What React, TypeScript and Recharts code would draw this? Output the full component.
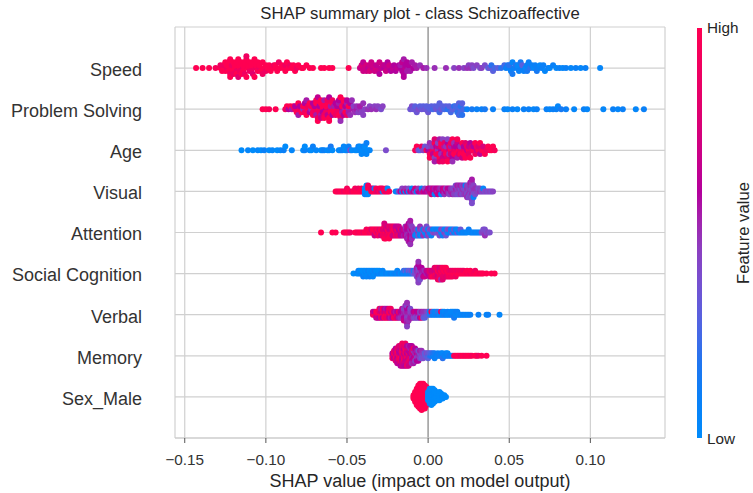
import React from 'react';
import { ScatterChart, Scatter, XAxis, YAxis, CartesianGrid } from 'recharts';

type Pt = [number, number]; // [SHAP value, normalized feature value (0 = low, 1 = high)]

const featureNames = ['Sex_Male', 'Memory', 'Verbal', 'Social Cognition', 'Attention', 'Visual', 'Age', 'Problem Solving', 'Speed'];
const featureTicks = [0, 1, 2, 3, 4, 5, 6, 7, 8];
const xTicks = [-0.15, -0.1, -0.05, 0, 0.05, 0.1];
const xTickLabels = ['\u22120.15', '\u22120.10', '\u22120.05', '0.00', '0.05', '0.10'];
const zeroLine = [0];
const titleText = 'SHAP summary plot - class Schizoaffective';
const xLabelText = 'SHAP value (impact on model output)';
const colorBarHigh = 'High';
const colorBarLow = 'Low';
const colorBarTitle = 'Feature value';

const speed: Pt[] = [
  [-.143,1],[-.139,1],[-.135,1],[-.131,.95],
  [-.128,1],[-.128,.9],[-.127,1],[-.126,1],[-.126,.9],[-.125,1],[-.125,1],[-.124,.9],[-.124,1],[-.123,1],[-.123,1],[-.122,.9],[-.122,1],[-.122,1],[-.121,1],[-.121,.9],[-.12,1],[-.12,1],[-.12,.9],[-.119,1],[-.119,1],[-.118,.9],[-.118,1],[-.118,1],[-.117,1],[-.117,.8],[-.116,1],[-.116,1],[-.116,.9],[-.115,1],[-.115,1],[-.114,.9],[-.114,1],[-.114,1],[-.113,1],[-.113,.9],[-.112,1],[-.112,1],[-.112,.9],[-.111,1],[-.111,1],[-.11,.9],[-.11,1],[-.109,1],[-.109,1],[-.109,.9],[-.108,1],[-.108,.8],[-.107,1],[-.107,1],[-.106,.9],[-.106,1],[-.105,1],[-.105,1],[-.104,.9],[-.104,1],[-.103,1],[-.102,1],[-.102,.9],[-.101,1],[-.1,1],[-.1,.9],[-.099,1],[-.098,1],
  [-.097,1],[-.096,1],[-.095,.9],[-.094,1],[-.094,1],[-.093,1],[-.092,.9],[-.091,1],[-.09,1],[-.089,1],[-.088,.9],[-.088,1],[-.087,1],[-.086,1],[-.085,.9],[-.084,1],[-.083,1],[-.082,1],[-.081,.9],[-.08,1],[-.078,1],[-.077,1],[-.075,1],[-.073,1],
  [-.071,1],[-.066,1],[-.064,1],[-.061,1],[-.059,1],[-.049,1],
  [-.042,.7],[-.041,.75],[-.04,.7],[-.04,.65],[-.039,.7],[-.038,.75],[-.038,.7],[-.037,.65],[-.036,.7],[-.036,.75],[-.035,.7],[-.034,.65],[-.034,.7],[-.033,.7],[-.032,.75],[-.032,.65],[-.031,.7],[-.03,.7],[-.03,.6],[-.029,.65],[-.028,.7],[-.027,.6],[-.027,.65],[-.026,.7],[-.025,.6],[-.024,.65],[-.024,.7],[-.023,.6],[-.022,.65],[-.021,.6],[-.02,.6],[-.019,.65],[-.018,.6],[-.017,.6],[-.017,.55],[-.016,.6],[-.016,.65],[-.015,.6],[-.015,.55],[-.015,.6],[-.014,.65],[-.014,.6],[-.013,.55],[-.013,.6],[-.012,.55],[-.012,.6],[-.011,.55],[-.01,.55],[-.009,.6],[-.008,.55],[-.007,.55],[-.005,.5],[-.003,.55],[-.001,.5],
  [.004,.5],[.011,.5],[.016,.45],[.019,.5],[.022,.45],[.024,.5],[.025,.45],[.026,.5],[.027,.45],[.028,.4],[.03,.45],[.032,.4],[.033,.45],[.035,.4],
  [.037,.3],[.038,.35],[.039,.2],[.04,.3],[.041,.25],[.043,.3],[.045,.2],[.047,.25],
  [.048,.1],[.049,.15],[.05,.1],[.05,.2],[.051,.1],[.052,.05],[.052,.15],[.053,.1],[.054,.2],[.055,.1],[.055,.05],[.056,.1],[.057,.15],[.058,.1],[.058,.3],[.059,.1],[.06,.05],[.061,.1],[.061,.15],[.062,.1],[.063,.2],[.064,.1],[.065,.05],[.066,.1],[.067,.15],[.068,.1],[.069,.05],[.07,.1],[.071,.1],[.072,.05],[.074,.1],[.075,.05],[.077,.1],
  [.079,.05],[.081,.1],[.083,.05],[.085,.1],[.088,.05],[.091,.1],[.094,.05],[.097,.1],[.106,.05],
];

const problemSolving: Pt[] = [
  [-.102,1],[-.1,1],[-.098,.95],[-.094,1],
  [-.088,.9],[-.087,1],[-.086,.6],[-.085,1],[-.084,.55],[-.083,1],[-.082,.9],[-.082,.6],[-.081,1],
  [-.08,1],[-.08,.55],[-.079,.9],[-.079,.6],[-.078,1],[-.077,.5],[-.077,1],[-.076,.9],[-.076,.6],[-.075,1],[-.075,.55],[-.074,1],[-.074,.9],[-.073,.6],[-.073,1],[-.072,.5],[-.072,1],[-.071,.9],[-.071,.6],[-.071,1],
  [-.07,1],[-.07,.6],[-.07,.9],[-.069,1],[-.069,.55],[-.069,1],[-.068,.9],[-.068,.65],[-.068,1],[-.067,1],[-.067,.6],[-.067,.9],[-.066,1],[-.066,.55],[-.066,1],[-.066,.7],[-.065,.9],[-.065,1],[-.065,.6],[-.064,1],[-.064,.9],[-.064,.55],[-.064,1],[-.063,.6],[-.063,1],[-.063,.9],[-.062,1],[-.062,.65],[-.062,.9],[-.061,1],[-.061,.6],[-.061,1],[-.06,.9],[-.06,.55],[-.06,1],[-.059,1],[-.059,.6],[-.059,.9],[-.058,1],[-.058,.55],[-.058,1],[-.057,.6],[-.057,.9],
  [-.056,1],[-.056,.6],[-.056,.9],[-.055,.55],[-.055,1],[-.055,.6],[-.054,.9],[-.054,1],[-.054,.5],[-.053,.6],[-.053,1],[-.053,.55],[-.052,.9],[-.052,.6],[-.052,1],[-.051,.5],[-.051,.6],[-.051,1],[-.05,.55],[-.05,.9],[-.05,.6],[-.049,.5],[-.049,1],[-.049,.55],[-.048,.6],[-.048,.5],
  [-.047,.5],[-.046,.55],[-.046,.45],[-.045,.5],[-.044,.55],[-.044,.5],[-.043,.45],[-.042,.5],[-.042,.55],[-.041,.45],[-.04,.5],[-.04,.45],
  [-.039,.45],[-.037,.5],[-.036,.45],[-.035,.5],[-.033,.45],[-.032,.5],[-.031,.45],[-.029,.4],[-.028,.45],
  [-.011,.35],[-.01,.4],[-.009,.35],[-.008,.3],[-.007,.35],[-.006,.4],[-.005,.3],[-.004,.35],[-.003,.3],[-.002,.35],[-.001,.3],[0,.35],[.001,.3],
  [.002,.3],[.003,.25],[.004,.3],[.005,.35],[.006,.3],[.007,.25],[.007,.3],[.008,.35],[.009,.3],[.01,.25],[.011,.3],[.012,.2],[.013,.3],[.014,.25],[.015,.3],[.016,.2],[.017,.3],[.017,.25],[.018,.2],[.019,.3],[.019,.25],[.02,.3],[.02,.2],[.02,.25],[.021,.3],[.021,.2],[.022,.25],
  [.024,.1],[.027,.15],[.03,.1],[.033,.1],[.035,.15],[.04,.1],[.047,.1],[.049,.05],[.052,.1],[.055,.05],[.059,.1],[.062,.1],[.065,.05],[.067,.1],[.073,.1],[.075,.05],[.077,.1],[.079,.1],[.08,.05],[.082,.15],[.085,.1],[.09,.05],[.096,.1],[.098,.05],[.108,.05],[.114,.1],[.117,.05],[.12,.1],[.128,.05],[.133,.1],
];

const age: Pt[] = [
  [-.115,0],[-.111,.05],[-.108,0],[-.105,.05],[-.103,0],[-.101,.1],[-.098,0],[-.096,.05],[-.093,0],[-.091,.05],[-.089,.1],[-.088,0],[-.084,.05],[-.077,0],[-.076,.1],[-.076,0],[-.073,.05],[-.072,0],[-.071,.1],[-.069,.05],[-.066,0],[-.065,.05],[-.064,.1],[-.062,0],[-.061,.05],[-.06,.15],[-.059,0],[-.055,.05],[-.054,0],[-.053,.1],[-.052,.05],[-.051,0],[-.05,.05],[-.049,.1],[-.048,.4],[-.047,0],[-.045,.05],[-.044,0],[-.043,.1],[-.042,.05],[-.042,0],[-.041,.05],[-.04,0],[-.04,.1],[-.039,.05],[-.039,0],[-.038,.05],[-.038,.1],[-.037,0],[-.036,.05],[-.026,.4],
  [-.008,.95],[-.007,1],[-.006,.4],[-.005,.3],[-.004,.9],[-.003,.45],[-.002,.35],[-.001,1],[0,.6],[0,.4],
  [.001,.9],[.001,.5],[.001,1],[.002,.7],[.002,.45],[.002,1],[.003,.9],[.003,.5],[.003,.65],[.004,1],[.004,.45],[.004,.8],[.004,.55],[.005,.9],[.005,.6],[.005,1],[.006,.5],[.006,.7],[.006,.95],[.006,.45],[.007,1],[.007,.55],[.007,.8],[.008,.6],[.008,.9],[.008,.5],[.008,1],[.009,.7],[.009,.45],[.009,.9],[.01,1],[.01,.55],[.01,.65],[.01,.85],
  [.011,.9],[.011,.5],[.011,1],[.012,.6],[.012,.8],[.012,.45],[.012,1],[.013,.7],[.013,.9],[.013,.5],[.014,1],[.014,.55],[.014,.75],[.014,.9],[.015,.6],[.015,1],[.015,.5],[.016,.85],[.016,.65],[.016,1],[.016,.5],[.017,.9],[.017,.6],[.017,1],[.018,.7],[.018,.55],[.018,.95],[.019,1],[.019,.6],[.019,.8],[.02,.9],[.02,.5],[.02,1],
  [.021,1],[.021,.7],[.022,.9],[.022,.6],[.022,1],[.023,.8],[.023,1],[.024,.65],[.024,.95],[.025,1],[.025,.7],[.025,.85],[.026,.6],[.026,1],[.027,.9],[.027,.75],[.028,1],[.028,.6],[.029,.9],[.029,1],[.03,.7],[.03,.95],[.031,1],[.031,.8],[.032,.65],[.032,1],[.033,.9],[.034,1],[.034,.75],
  [.035,1],[.036,.9],[.037,1],[.038,.95],[.039,1],[.04,1],[.041,.95],
];

const visual: Pt[] = [
  [-.057,1],[-.056,1],[-.055,.95],[-.054,1],[-.053,1],[-.052,.9],[-.051,1],[-.05,1],[-.05,.95],[-.049,1],[-.048,1],[-.047,.9],[-.046,1],[-.045,1],[-.045,.95],[-.044,1],[-.043,1],[-.043,.9],[-.042,1],[-.041,.95],[-.041,1],[-.04,1],
  [-.039,.05],[-.039,0],[-.039,.1],[-.038,0],[-.038,.05],[-.038,.1],[-.038,0],[-.037,.05],[-.037,1],[-.037,0],[-.037,.9],[-.036,.05],[-.036,1],
  [-.035,1],[-.035,.9],[-.034,.95],[-.034,.7],[-.033,1],[-.033,.1],[-.032,.9],[-.032,1],[-.031,.8],[-.03,1],[-.03,.9],[-.029,.75],[-.029,1],[-.028,.1],[-.028,.9],[-.027,1],[-.026,.85],[-.026,1],[-.025,.9],[-.025,.05],[-.024,1],
  [-.02,.1],[-.019,.05],[-.018,.4],[-.017,.6],[-.016,.1],[-.016,.45],[-.015,.7],[-.014,.05],[-.014,.5],[-.013,.65],[-.012,.1],[-.012,.4],[-.011,.7],[-.01,.55],[-.01,.05],[-.009,.6],[-.008,.45],[-.008,.7],[-.007,.1],[-.006,.6],[-.006,.5],[-.005,.65],[-.004,.55],[-.004,.1],[-.003,.7],[-.002,.6],[-.002,.45],[-.001,.65],[0,.55],[0,.7],
  [.001,.7],[.001,.6],[.002,.65],[.002,.55],[.002,.75],[.003,.6],[.003,.7],[.004,.65],[.004,.55],[.004,.1],[.005,.7],[.005,.6],[.006,.5],[.006,.65],[.006,.7],[.007,.6],[.007,.55],[.008,.7],[.008,.5],[.008,.05],[.009,.6],[.009,.65],[.01,.55],[.01,.7],[.01,.5],[.011,.6],[.011,.45],[.012,.55],[.012,.65],[.013,.5],[.013,.6],[.013,.45],[.014,.55],[.014,.5],
  [.015,.5],[.015,.45],[.015,.55],[.016,.5],[.016,.4],[.016,.45],[.017,.5],[.017,.55],[.017,.45],[.017,.4],[.018,.5],[.018,.45],[.018,.4],[.018,.55],[.019,.45],[.019,.5],[.019,.4],[.019,.5],[.02,.45],[.02,.4],[.02,.5],[.02,.55],[.021,.45],[.021,.5],[.021,.4],[.021,.45],[.022,.5],[.022,.4],[.022,.45],[.022,.5],[.023,.45],[.023,.4],[.023,.5],[.023,.1],[.024,.45],[.024,.5],[.024,.4],[.024,.45],[.024,.5],[.025,.4],[.025,.45],[.025,.5],[.025,.45],[.025,.4],[.026,.5],[.026,.45],[.026,.4],[.026,.5],[.026,.45],[.026,.55],[.027,.45],[.027,.4],[.027,.5],[.027,.45],[.027,.4],[.027,.5],[.027,.45],[.027,.55],[.027,.4],[.028,.45],[.028,.5],[.028,.4],[.028,.45],[.028,.1],[.029,.45],[.029,.5],[.029,.4],[.03,.45],[.03,.5],
  [.031,.45],[.031,.4],[.032,.5],[.032,.45],[.033,.4],[.034,.45],[.034,.05],[.035,.4],[.036,.45],[.037,.4],[.038,.45],[.039,.4],[.04,.45],
];

const attention: Pt[] = [
  [-.066,1],[-.059,1],[-.057,1],[-.052,1],[-.051,.95],[-.05,1],[-.049,1],[-.048,.9],
  [-.045,1],[-.044,1],[-.043,.95],[-.042,1],[-.041,1],[-.04,.9],[-.039,1],[-.038,1],[-.038,.95],[-.037,1],[-.036,.9],[-.036,1],
  [-.035,1],[-.035,.8],[-.034,.9],[-.034,1],[-.033,.85],[-.033,1],[-.033,.7],[-.032,1],[-.032,.9],[-.031,.75],[-.031,1],[-.031,.9],[-.03,1],[-.03,.8],[-.029,.9],[-.029,1],[-.029,.7],
  [-.028,1],[-.028,.8],[-.028,.9],[-.027,.9],[-.027,1],[-.027,.75],
  [-.026,1],[-.026,.7],[-.026,.9],[-.026,.8],[-.026,1],[-.025,.8],[-.025,1],[-.025,.9],[-.025,.7],
  [-.024,1],[-.024,.75],[-.024,.9],[-.024,.85],[-.024,1],[-.023,.9],[-.023,.7],[-.023,1],[-.023,.8],
  [-.022,1],[-.022,.9],[-.022,.75],[-.022,.85],[-.021,.8],[-.021,1],[-.021,.7],[-.021,.9],
  [-.02,1],[-.02,.75],[-.02,.9],[-.02,.65],[-.019,.7],[-.019,.9],[-.019,.8],[-.019,.65],
  [-.018,.75],[-.018,.6],[-.018,.9],[-.018,.7],[-.017,.65],[-.017,.8],[-.017,.6],
  [-.016,.7],[-.016,.6],[-.016,.65],[-.015,.6],[-.015,.7],[-.015,.55],
  [-.014,.6],[-.014,.55],[-.014,.65],[-.014,.5],[-.013,.55],[-.013,.6],[-.013,.5],[-.013,.65],[-.013,.55],
  [-.012,.5],[-.012,.6],[-.012,.55],[-.012,.65],[-.012,.5],[-.012,.6],[-.012,.55],
  [-.011,.55],[-.011,.5],[-.011,.6],[-.011,.55],[-.011,.65],[-.011,.5],[-.011,.6],[-.011,.55],[-.011,.5],
  [-.01,.5],[-.01,.6],[-.01,.55],[-.01,.45],[-.01,.5],[-.009,.5],[-.009,.45],[-.009,.55],[-.008,.45],[-.008,.5],[-.008,.1],
  [-.007,.1],[-.007,.45],[-.007,.05],[-.006,.5],[-.006,.1],[-.006,.4],[-.005,.05],[-.005,.45],[-.005,.1],[-.005,.5],[-.004,.1],[-.004,.45],[-.004,0],[-.003,.4],[-.003,.1],[-.003,.5],[-.002,.05],[-.002,.45],[-.001,.1],[-.001,.4],[0,.5],[0,.05],[0,.45],[.001,.1],[.001,.4],[.002,.05],[.002,.45],[.002,.1],[.003,.4],[.003,.1],[.004,.45],[.004,.05],[.005,.4],[.005,.1],
  [.006,.4],[.006,.1],[.007,.45],[.007,.05],[.007,.4],[.008,.1],[.008,.45],[.009,.05],[.009,.4],[.009,.1],[.01,.45],[.01,.05],[.011,.4],[.011,.1],[.011,.35],[.012,.05],[.012,.4],[.013,.1],[.013,.45],[.014,.05],[.014,.1],[.015,.4],[.015,.05],[.016,.1],[.016,.35],[.017,.05],[.017,.1],[.018,.4],[.018,.05],[.019,.1],[.02,.05],[.02,.35],[.021,.1],[.022,.05],
  [.023,.1],[.024,.05],[.025,.1],[.026,.05],[.027,.1],[.028,.05],[.029,.1],[.03,.05],[.031,.1],[.032,.05],
  [.033,.4],[.034,.45],[.034,.4],[.035,.45],[.035,.4],[.035,.5],[.036,.4],[.037,.45],[.038,.4],
];

const socialCognition: Pt[] = [
  [-.046,0],[-.044,.05],[-.043,0],[-.043,.1],[-.042,.05],[-.042,0],[-.041,.1],[-.041,0],[-.04,.05],[-.04,0],[-.04,.1],[-.039,0],[-.039,.05],[-.038,.1],[-.038,0],[-.038,.05],[-.037,0],[-.037,.1],[-.036,.05],[-.036,0],[-.036,.1],[-.035,0],[-.035,.05],[-.034,.1],[-.034,0],[-.034,.05],[-.033,0],[-.033,.1],[-.032,.05],[-.032,0],[-.031,.1],[-.031,0],[-.03,.05],[-.03,0],[-.029,.1],[-.028,0],[-.028,.05],[-.027,0],[-.026,.1],
  [-.025,0],[-.024,.05],[-.023,.1],[-.022,0],[-.021,.05],[-.02,.1],[-.019,0],[-.019,.05],[-.018,.15],[-.017,0],[-.016,.1],
  [-.015,.05],[-.015,.2],[-.014,.1],[-.014,.3],[-.013,.05],[-.013,.2],[-.012,.15],[-.012,.35],[-.011,.1],[-.011,.3],[-.01,.2],[-.01,.4],[-.009,.3],[-.009,.15],[-.008,.4],[-.008,.35],
  [-.007,.45],[-.007,.5],[-.007,.4],[-.007,.55],[-.006,.5],[-.006,.45],[-.006,.55],[-.006,.4],[-.006,.5],[-.006,.6],[-.006,.45],[-.006,.5],[-.005,.55],[-.005,.45],[-.005,.5],[-.005,.6],[-.005,.4],[-.004,.5],[-.004,.55],[-.004,.45],[-.004,.6],[-.003,.5],[-.003,.55],[-.003,.65],[-.002,.6],[-.002,.5],[-.002,.7],[-.001,.55],[-.001,.65],[0,.6],[0,.7],
  [.001,.75],[.001,.8],[.001,.65],[.002,.85],[.002,.7],[.002,.9],[.003,.8],[.003,.75],[.003,1],[.004,.85],[.004,.7],[.004,.9],[.004,.8],[.005,1],[.005,.75],[.005,.85],[.005,.9],[.006,.8],[.006,1],[.006,.7],[.006,.9],[.006,.85],[.007,1],[.007,.8],[.007,.9],[.007,.75],[.007,1],[.008,.85],[.008,1],[.008,.9],[.008,.8],[.008,.5],[.009,1],[.009,.9],[.009,.85],[.009,1],[.009,.8],[.01,.9],[.01,1],[.01,.85],[.01,.95],[.011,1],[.011,.9],[.011,.8],[.011,1],[.012,.9],[.012,1],[.012,.85],[.013,1],[.013,.9],[.013,.95],[.014,1],[.014,.85],[.014,.9],[.015,1],[.015,.9],[.015,.95],[.016,1],[.016,.9],[.017,1],[.017,.95],[.017,.9],[.018,1],[.018,.9],[.019,1],[.019,.95],[.02,1],[.02,.9],[.021,1],[.021,.95],
  [.022,1],[.022,.9],[.023,1],[.024,.95],[.024,1],[.025,1],[.026,.9],[.026,1],[.027,1],[.028,.95],[.029,1],[.029,.9],[.03,1],[.031,1],[.032,.95],[.033,1],[.034,1],
  [.036,1],[.039,1],[.041,1],
];

const verbal: Pt[] = [
  [-.034,.9],[-.034,.7],[-.033,1],[-.033,.6],[-.032,.85],[-.032,1],[-.032,.65],[-.031,.9],[-.031,1],[-.031,.7],[-.03,1],[-.03,.8],[-.03,.6],[-.03,.9],[-.029,1],[-.029,.7],[-.029,.9],[-.029,.55],[-.028,1],[-.028,.85],[-.028,.6],[-.028,1],[-.027,.9],[-.027,.7],[-.027,1],[-.027,.65],[-.026,1],[-.026,.8],[-.026,.9],[-.026,.55],[-.025,1],[-.025,.7],[-.025,.9],[-.025,.6],[-.024,.85],[-.024,1],[-.024,.65],[-.024,.9],[-.023,1],[-.023,.7],[-.023,.55],[-.023,.9],[-.022,.8],[-.022,1],[-.022,.6],[-.021,.9],[-.021,.65],[-.021,1],[-.02,.7],[-.02,.55],[-.02,.9],[-.019,1],[-.019,.6],[-.019,.75],[-.018,.65],[-.018,.9],[-.018,.55],[-.017,.7],[-.017,.6],[-.017,.5],
  [-.016,.55],[-.016,.6],[-.016,.5],[-.016,.65],[-.015,.5],[-.015,.55],[-.015,.6],[-.015,.45],[-.015,.7],[-.014,.55],[-.014,.5],[-.014,.6],[-.014,.45],[-.014,.65],[-.014,.5],[-.013,.5],[-.013,.55],[-.013,.45],[-.013,.6],[-.013,.5],[-.013,.4],[-.013,.55],[-.013,.5],[-.013,.45],[-.012,.5],[-.012,.55],[-.012,.45],[-.012,.6],[-.012,.5],[-.011,.5],[-.011,.45],[-.011,.55],[-.011,.4],[-.01,.5],[-.01,.45],[-.01,.55],
  [-.009,.5],[-.009,.6],[-.009,.45],[-.008,.55],[-.008,.7],[-.008,.4],[-.007,.5],[-.007,.6],[-.007,.45],[-.006,.55],[-.006,.65],[-.006,.4],[-.005,.5],[-.005,.45],[-.005,.6],[-.004,.4],[-.004,.55],[-.004,.9],[-.003,.45],[-.003,.5],[-.003,.35],[-.002,.4],[-.002,.5],[-.002,.3],[-.001,.35],[-.001,.45],[0,.3],[0,.4],
  [.001,.2],[.001,.1],[.002,.15],[.002,1],[.003,.1],[.003,.2],[.004,.05],[.004,.1],[.005,.15],[.005,.05],[.006,.1],[.006,.2],[.007,.05],[.008,.1],[.008,.9],[.009,.05],[.009,.1],[.01,.15],[.01,.05],[.011,.1],[.012,.05],[.012,.1],[.013,.05],[.014,.1],[.014,.05],[.015,.1],[.015,.05],[.016,.1],[.016,.05],[.016,.15],[.017,.05],[.017,.1],[.018,.05],[.018,.1],[.019,.05],[.02,.1],[.021,.05],[.022,.1],[.023,.05],[.024,.1],[.025,.05],[.026,.1],
  [.031,.1],[.036,.05],[.037,.1],[.044,.05],
];

const memory: Pt[] = [
  [-.022,.8],[-.022,.6],[-.022,.9],
  [-.021,.7],[-.021,1],[-.021,.6],[-.021,.85],
  [-.02,.9],[-.02,.65],[-.02,1],[-.02,.7],[-.02,.8],[-.02,.6],
  [-.019,.75],[-.019,.9],[-.019,.6],[-.019,1],[-.019,.7],[-.019,.85],[-.019,.65],
  [-.018,1],[-.018,.7],[-.018,.85],[-.018,.6],[-.018,.9],[-.018,.75],[-.018,.65],[-.018,.8],
  [-.017,.8],[-.017,.6],[-.017,1],[-.017,.7],[-.017,.9],[-.017,.65],[-.017,.85],[-.017,.75],[-.017,.6],
  [-.016,.7],[-.016,.9],[-.016,.65],[-.016,1],[-.016,.6],[-.016,.8],[-.016,.75],[-.016,.85],[-.016,.7],[-.016,.9],
  [-.015,.85],[-.015,.65],[-.015,.9],[-.015,.7],[-.015,1],[-.015,.6],[-.015,.75],[-.015,.8],[-.015,.65],
  [-.014,.6],[-.014,.9],[-.014,.75],[-.014,.85],[-.014,.65],[-.014,1],[-.014,.7],[-.014,.8],[-.014,.6],[-.014,.9],
  [-.013,.8],[-.013,.6],[-.013,.95],[-.013,.7],[-.013,.65],[-.013,.85],[-.013,.75],[-.013,.6],[-.013,.9],
  [-.012,.65],[-.012,.9],[-.012,.7],[-.012,.6],[-.012,.8],[-.012,.75],[-.012,.85],[-.012,.55],[-.012,.7],
  [-.011,.7],[-.011,.6],[-.011,.85],[-.011,.65],[-.011,.9],[-.011,.55],[-.011,.75],[-.011,.6],
  [-.01,.6],[-.01,.75],[-.01,.55],[-.01,.8],[-.01,.65],[-.01,.7],[-.01,.5],[-.01,.6],
  [-.009,.55],[-.009,.7],[-.009,.6],[-.009,.5],[-.009,.65],[-.009,.9],[-.009,.55],
  [-.008,.6],[-.008,.5],[-.008,.7],[-.008,.55],[-.008,.45],[-.008,.6],
  [-.007,.5],[-.007,.65],[-.007,.45],[-.007,.55],[-.007,.6],
  [-.006,.45],[-.006,.55],[-.006,.5],[-.006,.4],[-.006,.6],
  [-.005,.5],[-.005,.4],[-.005,.45],[-.005,.55],
  [-.004,.4],[-.004,.45],[-.004,.35],[-.004,.5],
  [-.003,.35],[-.003,.45],[-.003,.4],
  [-.002,.35],[-.002,.3],[-.001,.3],[-.001,.4],[0,.25],[0,.35],[0,.3],[.001,.2],[.001,.3],[.002,.15],[.002,.25],
  [.003,.1],[.003,.2],[.004,.05],[.004,.15],[.004,.1],[.005,.1],[.006,.05],[.006,.1],[.007,.15],[.008,.05],[.008,.1],[.009,.1],[.009,.05],[.009,.2],[.01,.1],[.011,.05],[.011,.1],[.012,.1],[.012,.05],[.013,.15],[.014,.1],[.015,.05],
  [.016,1],[.017,.95],[.018,1],[.019,1],[.02,.9],[.021,1],[.022,1],[.023,.95],[.024,1],[.025,1],[.026,1],[.027,.95],[.029,1],[.03,1],[.031,.9],[.033,1],[.036,1],
];

const sexMale: Pt[] = [
  [-.009,1],[-.009,1],[-.009,1],
  [-.008,1],[-.008,1],[-.008,1],[-.008,1],[-.008,1],[-.008,1],[-.008,1],
  [-.007,1],[-.007,1],[-.007,1],[-.007,1],[-.007,1],[-.007,1],[-.007,1],[-.007,1],[-.007,1],[-.007,1],[-.007,1],
  [-.006,1],[-.006,1],[-.006,1],[-.006,1],[-.006,1],[-.006,1],[-.006,1],[-.006,1],[-.006,1],[-.006,1],[-.006,1],[-.006,1],[-.006,1],[-.006,1],
  [-.005,1],[-.005,1],[-.005,1],[-.005,1],[-.005,1],[-.005,1],[-.005,1],[-.005,1],[-.005,1],[-.005,1],[-.005,1],[-.005,1],[-.005,1],[-.005,1],[-.005,1],[-.005,1],
  [-.004,1],[-.004,1],[-.004,1],[-.004,1],[-.004,1],[-.004,1],[-.004,1],[-.004,1],[-.004,1],[-.004,1],[-.004,1],[-.004,1],[-.004,1],[-.004,1],[-.004,1],[-.004,1],[-.004,1],
  [-.003,1],[-.003,1],[-.003,1],[-.003,1],[-.003,1],[-.003,1],[-.003,1],[-.003,1],[-.003,1],[-.003,1],[-.003,1],[-.003,1],[-.003,1],[-.003,1],[-.003,1],[-.003,1],
  [-.002,1],[-.002,1],[-.002,1],[-.002,1],[-.002,1],[-.002,1],[-.002,1],[-.002,1],[-.002,1],[-.002,1],[-.002,1],[-.002,1],[-.002,1],[-.002,1],[-.002,1],
  [-.001,1],[-.001,1],[-.001,1],[-.001,1],[-.001,1],[-.001,1],[-.001,1],[-.001,1],[-.001,1],[-.001,1],[-.001,1],[-.001,1],
  [0,0],[0,0],[0,0],[0,0],[0,0],[0,0],
  [.001,0],[.001,0],[.001,0],[.001,0],[.001,0],[.001,0],[.001,0],[.001,0],[.001,0],[.001,0],
  [.002,0],[.002,0],[.002,0],[.002,0],[.002,0],[.002,0],[.002,0],[.002,0],[.002,0],[.002,0],[.002,0],
  [.003,0],[.003,0],[.003,0],[.003,0],[.003,0],[.003,0],[.003,0],[.003,0],[.003,0],[.003,0],
  [.004,0],[.004,0],[.004,0],[.004,0],[.004,0],[.004,0],[.004,0],[.004,0],
  [.005,0],[.005,0],[.005,0],[.005,0],[.005,0],[.005,0],
  [.006,0],[.006,0],[.006,0],[.006,0],[.006,0],
  [.007,0],[.007,0],[.007,0],[.007,0],[.007,0],[.007,0],
  [.008,0],[.008,0],[.008,0],[.008,0],
  [.009,0],[.009,0],[.009,0],
  [.01,0],[.01,0],
  [.011,0],
];

// bottom (position 0) to top (position 8)
const rows: Pt[][] = [sexMale, memory, verbal, socialCognition, attention, visual, age, problemSolving, speed];

const colorStops: [number, string][] = [
  [0, '#008bfb'], [0.1, '#0a80f7'], [0.18, '#1f76f0'], [0.24, '#3f6be8'], [0.3, '#5a60de'],
  [0.38, '#7650d0'], [0.46, '#8c3fc0'], [0.54, '#a51fab'], [0.6, '#b3009c'], [0.68, '#c8008a'],
  [0.8, '#e0006e'], [1, '#ff0052'],
];

const FONT = '"Liberation Sans", Arial, Helvetica, sans-serif';

function hexToRgb(h: string): number[] {
  const n = parseInt(h.slice(1), 16);
  return [(n >> 16) & 255, (n >> 8) & 255, n & 255];
}

function colorFor(v: number): string {
  const t = Math.max(0, Math.min(1, v));
  for (let i = 1; i < colorStops.length; i++) {
    const [p1, c1] = colorStops[i];
    if (t <= p1) {
      const [p0, c0] = colorStops[i - 1];
      const f = (t - p0) / (p1 - p0 || 1);
      const a = hexToRgb(c0);
      const b = hexToRgb(c1);
      const m = a.map((av, k) => Math.round(av + (b[k] - av) * f));
      return `rgb(${m[0]},${m[1]},${m[2]})`;
    }
  }
  return colorStops[colorStops.length - 1][1];
}

// SHAP-style beeswarm layout: bin the values, stack points in each bin alternately up/down
function swarm(points: Pt[], pos: number) {
  const n = points.length;
  const xs = points.map((p) => p[0]);
  const mn = Math.min(...xs);
  const mx = Math.max(...xs);
  const nbins = 100;
  const quant = xs.map((x) => Math.round((nbins * (x - mn)) / (mx - mn + 1e-8)));
  const inds = Array.from({ length: n }, (_, i) => i).sort((a, b) => quant[a] - quant[b] || a - b);
  const ys = new Array(n).fill(0);
  let layer = 0;
  let last = -1;
  for (const i of inds) {
    if (quant[i] !== last) layer = 0;
    ys[i] = Math.ceil(layer / 2) * ((layer % 2) * 2 - 1);
    layer += 1;
    last = quant[i];
  }
  const maxY = Math.max(...ys.map((y) => y + 1));
  const scale = (0.9 * 0.4) / maxY;
  return points.map((p, i) => ({ x: p[0], y: pos + ys[i] * scale, fv: p[1] }));
}

const renderDot = (props: any) => {
  const { cx, cy, payload } = props;
  if (cx == null || cy == null || !payload) return <g />;
  return <circle cx={cx} cy={cy} r={3} fill={colorFor(payload.fv)} />;
};

const YTick = (props: any) => {
  const { x, y, payload } = props;
  return (
    <text x={x} y={y + 1.5} dy="0.355em" textAnchor="end" fill="#333333" fontSize={18}>
      {featureNames[payload.value] ?? ''}
    </text>
  );
};

const gradientCss = `linear-gradient(to top, ${colorStops.map(([p, c]) => `${c} ${p * 100}%`).join(', ')})`;

export default function App() {
  const data = React.useMemo(() => rows.flatMap((r, i) => swarm(r, i)), []);
  return (
    <div style={{ position: 'absolute', left: 0, top: 0, width: 753, height: 493, background: '#ffffff', fontFamily: FONT, overflow: 'hidden' }}>
      <div style={{ position: 'absolute', left: 175, width: 490, top: 5, fontSize: 16.7, lineHeight: '17px', textAlign: 'center', color: '#262626', whiteSpace: 'nowrap' }}>
        {titleText}
      </div>
      <div style={{ position: 'absolute', left: 0, top: 0 }}>
        <ScatterChart width={753} height={493} margin={{ top: 27, right: 88, bottom: 5, left: 0 }}>
          <CartesianGrid stroke="#d0d0d0" strokeWidth={1.2} />
          <CartesianGrid horizontal={false} verticalValues={zeroLine} stroke="#999999" strokeWidth={1.3} />
          <XAxis
            type="number"
            dataKey="x"
            domain={[-0.156, 0.146]}
            ticks={xTicks}
            interval={0}
            tickFormatter={(v: number) => {
              const k = xTicks.findIndex((t) => Math.abs(t - v) < 1e-9);
              return k >= 0 ? xTickLabels[k] : '';
            }}
            height={50}
            axisLine={{ stroke: '#cccccc', strokeWidth: 1.2 }}
            tickLine={{ stroke: '#555555', strokeWidth: 1 }}
            tickSize={5}
            tickMargin={11}
            tick={{ fill: '#333333', fontSize: 15.3 }}
            label={{ value: xLabelText, position: 'insideBottom', offset: 1, fill: '#262626', fontSize: 18 }}
          />
          <YAxis
            type="number"
            dataKey="y"
            domain={[-1, 9]}
            ticks={featureTicks}
            interval={0}
            width={175}
            axisLine={false}
            tickLine={false}
            tickSize={0}
            tickMargin={33}
            tick={YTick}
          />
          <Scatter data={data} isAnimationActive={false} shape={renderDot} />
        </ScatterChart>
      </div>
      <div style={{ position: 'absolute', left: 697, top: 28, width: 5, height: 410, background: gradientCss }} />
      <div style={{ position: 'absolute', left: 707, top: 19, fontSize: 15.3, lineHeight: '18px', color: '#262626' }}>{colorBarHigh}</div>
      <div style={{ position: 'absolute', left: 707, top: 430, fontSize: 15.3, lineHeight: '18px', color: '#262626' }}>{colorBarLow}</div>
      <div style={{ position: 'absolute', left: 744, top: 233, transform: 'translate(-50%, -50%) rotate(-90deg)', fontSize: 16.7, lineHeight: '18px', color: '#262626', whiteSpace: 'nowrap' }}>
        {colorBarTitle}
      </div>
    </div>
  );
}
